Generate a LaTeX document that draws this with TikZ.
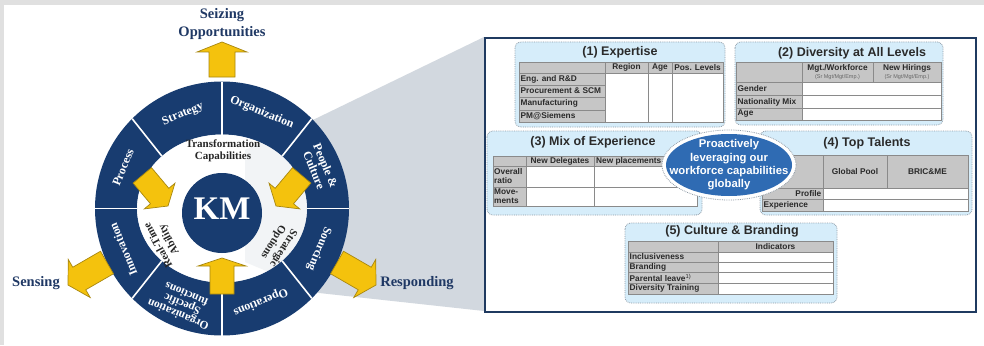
\documentclass[tikz,border=0pt]{standalone}
\usepackage{fontspec}
\setmainfont{Liberation Serif}
\setsansfont{Liberation Sans}
\usetikzlibrary{shapes.geometric}
\definecolor{bggray}{HTML}{E0E0E0}
\definecolor{wheelnavy}{HTML}{183C70}
\definecolor{textnavy}{HTML}{1F3864}
\definecolor{panelnavy}{HTML}{1F3A60}
\definecolor{wedgegray}{HTML}{D2D8DF}
\definecolor{arrowyel}{HTML}{F4C20D}
\definecolor{arrowline}{HTML}{A8870F}
\definecolor{boxblue}{HTML}{D6EDFA}
\definecolor{dotgray}{HTML}{8F9BA6}
\definecolor{hdrgray}{HTML}{C6C6C6}
\definecolor{linegray}{HTML}{8A8A8A}
\definecolor{ellblue}{HTML}{2F6BB3}
\definecolor{tabtext}{HTML}{2A2A2A}
\newcommand\tabfnt{\sffamily\bfseries\fontsize{8.3}{9}\selectfont}
\newcommand\yarrow[7]{%
  \begin{scope}[shift={(#1,#2)}, y=1pt, rotate=#3]
    \filldraw[arrowsty] (0,0) -- (-#5,#6) -- (-#5,#7) -- (-#4,#7) -- (-#4,-#7) -- (-#5,-#7) -- (-#5,-#6) -- cycle;
  \end{scope}}
\begin{document}
\begin{tikzpicture}[x=1pt,y=-1pt,
  arrowsty/.style={fill=arrowyel, draw=arrowline, line width=0.7pt, line join=miter},
  ringlbl/.style={text=white, font=\bfseries\fontsize{12}{12.5}\selectfont, align=center, inner sep=0pt},
  innerlbl/.style={text=black!85, font=\bfseries\fontsize{11}{12}\selectfont, align=center, inner sep=0pt},
  outerlbl/.style={text=textnavy, font=\bfseries\fontsize{14.5}{17.5}\selectfont, align=center, inner sep=0pt},
  secbox/.style={fill=boxblue, draw=dotgray, densely dotted, line width=0.8pt, rounded corners=6pt},
  sectitle/.style={font=\sffamily\bfseries\fontsize{12.5}{13}\selectfont, text=tabtext, inner sep=0pt},
  cg/.style={fill=hdrgray, draw=linegray, line width=0.6pt},
  cw/.style={fill=white, draw=linegray, line width=0.6pt},
  tl/.style={font=\tabfnt, text=tabtext, anchor=west, inner sep=0pt, align=left},
  tc/.style={font=\tabfnt, text=tabtext, inner sep=0pt, align=center},
  sub/.style={font=\sffamily\fontsize{5.5}{6}\selectfont, text=black!60, inner sep=0pt}
]
\useasboundingbox (0,0) rectangle (984,345);
\fill[white] (0,0) rectangle (984,345);
\fill[bggray] (0,0) rectangle (984,5);
\fill[bggray] (0,0) rectangle (4,345);

% callout wedge
\fill[wedgegray] (484,37) -- (484,311) -- (319,293) -- (245,262) -- (245,150) -- (317,118) -- cycle;

% wheel
\coordinate (C) at (222,208.5);
\fill[wheelnavy, even odd rule] (C) circle[radius=127pt] (C) ellipse[x radius=85pt, y radius=74pt];
\fill[white, fill opacity=0.72] (C) ellipse[x radius=85pt, y radius=74pt];
\begin{scope}[shift={(C)}, y=1pt]
  \foreach \a in {0,45,...,315}
    \draw[white, line width=1.6pt] ({85*cos(\a)},{74*sin(\a)}) -- (\a:127);
  \node[ringlbl, rotate=22.5] (rs) at (112.5:102) {Strategy};
  \node[ringlbl, rotate=-22.5] (ro) at (67.5:104) {Organization};
  \node[ringlbl, rotate=-67.5] (rp) at (22.5:106) {People \&\\Culture};
  \node[ringlbl, rotate=-112.5] (rsrc) at (-22.5:105) {Sourcing};
  \node[ringlbl, rotate=-157.5] (rop) at (-67.5:101) {Operations};
  \node[ringlbl, rotate=157.5, font=\bfseries\fontsize{11.5}{11}\selectfont] (rof) at (-112.5:104) {Organization\\Specific\\functions};
  \node[ringlbl, rotate=112.5] (ri) at (-157.5:107) {Innovation};
  \node[ringlbl, rotate=67.5] (rpr) at (157.5:107) {Process};
  \node[innerlbl, rotate=118] (rt) at (-150:67) {Real-Time\\Ability};
  \node[innerlbl, rotate=-122] (so) at (-33:67) {Strategic\\Options};
\end{scope}
\node[innerlbl] (tc) at (223,151) {Transformation\\Capabilities};

% KM
\fill[wheelnavy] (222,213) circle[radius=40pt];
\node[text=white, font=\bfseries\fontsize{33}{33}\selectfont, inner sep=0pt] (km) at (222,209) {KM};

% arrows
\yarrow{222}{42}{90}{35}{10}{25}{13}
\yarrow{222}{258}{90}{36}{8}{24}{12}
\yarrow{168}{206}{-50}{40}{13}{20}{12}
\yarrow{276}{206}{-130}{40}{13}{20}{12}
\yarrow{68}{285}{-150}{45}{13}{22}{13}
\yarrow{376}{285}{-30}{45}{13}{22}{13}

\node[outerlbl] (seize) at (222,24) {Seizing\\Opportunities};
\node[outerlbl] (sens) at (36,283) {Sensing};
\node[outerlbl] (resp) at (417,283) {Responding};

% panel
\draw[panelnavy, line width=2.6pt, fill=white] (485,38) rectangle (976,312);

% (1) Expertise
\draw[secbox] (515,42) rectangle (725,127);
\node[sectitle] (t1) at (620,52) {(1) Expertise};
\draw[cg] (519,62) rectangle (605,73);
\draw[cg] (605,62) rectangle (648,73);
\draw[cg] (648,62) rectangle (672,73);
\draw[cg] (672,62) rectangle (723,73);
\draw[cg] (519,73) rectangle (605,85);
\draw[cg] (519,85) rectangle (605,97);
\draw[cg] (519,97) rectangle (605,110);
\draw[cg] (519,110) rectangle (605,122);
\draw[cw] (605,73) rectangle (648,122);
\draw[cw] (648,73) rectangle (672,122);
\draw[cw] (672,73) rectangle (723,122);
\node[tc] (h11) at (626.5,67.5) {Region};
\node[tc] (h12) at (660,67.5) {Age};
\node[tc] (h13) at (697.5,67.5) {Pos. Levels};
\node[tl] (r11) at (520.5,79) {Eng. and R\&D};
\node[tl] (r12) at (520.5,91) {Procurement \& SCM};
\node[tl] (r13) at (520.5,103.5) {Manufacturing};
\node[tl] (r14) at (520.5,116) {PM@Siemens};

% (2) Diversity
\draw[secbox] (735,42) rectangle (943,125);
\node[sectitle] (t2) at (852,53) {(2) Diversity at All Levels};
\draw[cg] (736,62) rectangle (802,82);
\draw[cg] (802,62) rectangle (873,82);
\draw[cg] (873,62) rectangle (941,82);
\draw[cg] (736,82) rectangle (802,95.5);
\draw[cg] (736,95.5) rectangle (802,108);
\draw[cg] (736,108) rectangle (802,120);
\draw[cw] (802,82) rectangle (941,95.5);
\draw[cw] (802,95.5) rectangle (941,108);
\draw[cw] (802,108) rectangle (941,120);
\node[tc] (h21) at (837.5,68.5) {Mgt./Workforce};
\node[sub] (s21) at (837.5,77) {(Sr Mgt/Mgt/Emp.)};
\node[tc] (h22) at (907,68.5) {New Hirings};
\node[sub] (s22) at (907,77) {(Sr Mgt/Mgt/Emp.)};
\node[tl] (r21) at (737.5,89) {Gender};
\node[tl] (r22) at (737.5,102) {Nationality Mix};
\node[tl] (r23) at (737.5,114) {Age};

% (3) Mix of Experience
\draw[secbox] (487,131) rectangle (702,215);
\node[sectitle] (t3) at (593,142) {(3) Mix of Experience};
\draw[cg] (493,156) rectangle (526,166);
\draw[cg] (526,156) rectangle (594,166);
\draw[cg] (594,156) rectangle (697,166);
\draw[cg] (493,166) rectangle (526,187);
\draw[cg] (493,187) rectangle (526,206);
\draw[cw] (526,166) rectangle (594,187);
\draw[cw] (594,166) rectangle (697,187);
\draw[cw] (526,187) rectangle (594,206);
\draw[cw] (594,187) rectangle (697,206);
\node[tc] (h31) at (560,161) {New Delegates};
\node[tl] (h32) at (596,161) {New placements};
\node[tl] (r31) at (494,176.5) {Overall\\ratio};
\node[tl] (r32) at (494,196.5) {Move-\\ments};

% (4) Top Talents
\draw[secbox] (760,131) rectangle (972,215);
\node[sectitle] (t4) at (867,143) {(4) Top Talents};
\draw[cg] (762,155) rectangle (823,188);
\draw[cg] (823,155) rectangle (887,188);
\draw[cg] (887,155) rectangle (968,188);
\draw[cg] (762,188) rectangle (823,199.5);
\draw[cg] (762,199.5) rectangle (823,211);
\draw[cw] (823,188) rectangle (968,199.5);
\draw[cw] (823,199.5) rectangle (968,211);
\node[tc] (h41) at (855,171.5) {Global Pool};
\node[tc] (h42) at (927.5,171.5) {BRIC\&ME};
\node[tc, anchor=east] (r41) at (821.5,194) {Profile};
\node[tl] (r42) at (763.5,205.5) {Experience};

% ellipse
\draw[dotgray, densely dotted, line width=0.8pt, fill=white] (729,165) ellipse[x radius=67pt, y radius=35pt];
\fill[ellblue] (729,165) ellipse[x radius=63pt, y radius=31pt];
\node[text=white, font=\sffamily\bfseries\fontsize{11.3}{13.3}\selectfont, align=center, inner sep=0pt] (ell) at (729,165) {Proactively\\leveraging our\\workforce capabilities\\globally};

% (5) Culture & Branding
\draw[secbox] (625,223) rectangle (837,303);
\node[sectitle] (t5) at (732,231.5) {(5) Culture \& Branding};
\draw[cg] (628,241) rectangle (718,252);
\draw[cg] (718,241) rectangle (833,252);
\draw[cg] (628,252) rectangle (718,262);
\draw[cg] (628,262) rectangle (718,272.5);
\draw[cg] (628,272.5) rectangle (718,283);
\draw[cg] (628,283) rectangle (718,294);
\draw[cw] (718,252) rectangle (833,262);
\draw[cw] (718,262) rectangle (833,272.5);
\draw[cw] (718,272.5) rectangle (833,283);
\draw[cw] (718,283) rectangle (833,294);
\node[tc] (h51) at (775.5,246.5) {Indicators};
\node[tl] (r51) at (629.5,257) {Inclusiveness};
\node[tl] (r52) at (629.5,267.2) {Branding};
\node[tl] (r53) at (629.5,277.7) {Parental leave\textsuperscript{\mdseries 1)}};
\node[tl] (r54) at (629.5,288.5) {Diversity Training};
\end{tikzpicture}
\end{document}
